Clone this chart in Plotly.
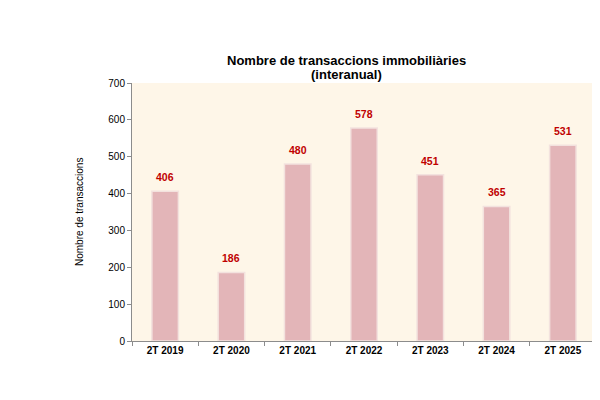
import plotly.graph_objects as go

categories = ["2T 2019", "2T 2020", "2T 2021", "2T 2022", "2T 2023", "2T 2024", "2T 2025"]
values = [406, 186, 480, 578, 451, 365, 531]
y_ticks = [0, 100, 200, 300, 400, 500, 600, 700]
title_lines = ["Nombre de transaccions immobiliàries", "(interanual)"]
y_title = "Nombre de transaccions"

FONT = "Liberation Sans, Arial"

fig = go.Figure()
fig.add_trace(go.Bar(
    x=categories, y=values,
    marker=dict(color="#E3B5B8", line=dict(color="#F3E2DE", width=1.5)),
    width=0.4,
    hoverinfo="x+y",
))

annotations = []
for c, v in zip(categories, values):
    annotations.append(dict(
        x=c, y=v, xref="x", yref="y", text=f"<b>{v}</b>", showarrow=False,
        yanchor="bottom", yshift=6,
        font=dict(family=FONT, size=10.5, color="#C00000"),
    ))
# title lines
plot_top, plot_bot = 75, 333
ph = plot_bot - plot_top
for line, ypx in zip(title_lines, [52, 67]):
    annotations.append(dict(
        x=(338 - 124) / 464, y=(plot_bot - ypx) / ph, xref="paper", yref="paper",
        text=f"<b>{line}</b>", showarrow=False, xanchor="center", yanchor="middle",
        font=dict(family=FONT, size=13, color="black"),
    ))
annotations.append(dict(
    x=(71 - 124) / 464, y=0.5, xref="paper", yref="paper", text=y_title,
    showarrow=False, textangle=-90, xanchor="center", yanchor="middle",
    font=dict(family=FONT, size=10, color="black"),
))

fig.update_layout(
    width=600, height=400,
    margin=dict(l=124, r=12, t=75, b=67),
    paper_bgcolor="white",
    plot_bgcolor="#FEF6E8",
    showlegend=False,
    font=dict(family=FONT, size=10, color="black"),
    annotations=annotations,
)
fig.update_xaxes(
    automargin=False,
    showline=True, linecolor="#8C8C8C", linewidth=1,
    ticks="outside", tickson="boundaries", ticklen=4, tickcolor="#8C8C8C",
    tickvals=categories, ticktext=[f"<b>{c}</b>" for c in categories],
    tickfont=dict(family=FONT, size=10, color="black"),
    showgrid=False,
)
fig.update_yaxes(
    automargin=False,
    range=[0, 700], tickvals=y_ticks,
    showline=True, linecolor="#8C8C8C", linewidth=1,
    ticks="outside", ticklen=4, tickcolor="#8C8C8C",
    showgrid=False, zeroline=False,
    tickfont=dict(family=FONT, size=10, color="black"),
)
fig.write_html("out.html")
